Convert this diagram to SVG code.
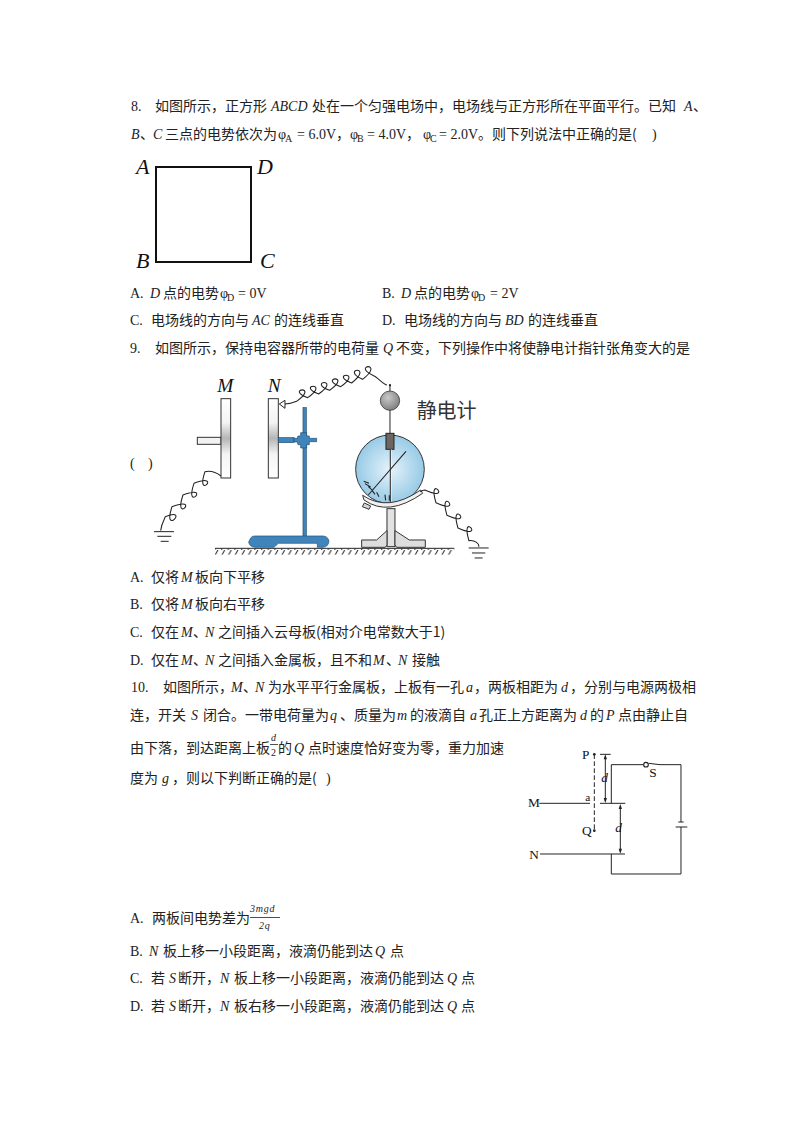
<svg xmlns="http://www.w3.org/2000/svg" width="794" height="1123" viewBox="0 0 794 1123">
<style>
text{font-family:"Liberation Serif","Noto Sans CJK SC",serif;font-size:14px;fill:#222}
.c{font-family:"Noto Sans CJK SC","Liberation Sans",sans-serif;font-size:14px}
.i{font-style:italic}
.s{font-size:10px}
.l{font-style:italic;font-size:22px;fill:#111}
.w{fill:none;stroke:#222;stroke-width:3}
.t{fill:none;stroke:#222;stroke-width:3.2}
.b{fill:#3f85bb;stroke:#234f72;stroke-width:2}
.f{font-size:58px;fill:#111}
.g{font-size:40px;fill:#111}
</style>
<defs>
<linearGradient id="plate" x1="0" y1="0" x2="0" y2="1"><stop offset="0" stop-color="#fff"/><stop offset="0.3" stop-color="#f4f4f4"/><stop offset="0.5" stop-color="#b5b5b5"/><stop offset="0.7" stop-color="#f4f4f4"/><stop offset="1" stop-color="#fff"/></linearGradient>
<radialGradient id="ball" cx="0.4" cy="0.35" r="0.7"><stop offset="0" stop-color="#c8c8c8"/><stop offset="1" stop-color="#7d7d7d"/></radialGradient>
<radialGradient id="glass" cx="0.5" cy="0.5" r="0.55"><stop offset="0" stop-color="#e6f3fa"/><stop offset="1" stop-color="#8fc6e4"/></radialGradient>
<pattern id="hatch" width="20" height="18" patternUnits="userSpaceOnUse"><path d="M14,0L4,18" stroke="#222" stroke-width="3" fill="none"/></pattern>
</defs>

<g id="question-8">
<text x="131" y="111">8.</text><text class="c" x="155" y="111">如图所示，正方形</text><text class="i" x="271" y="111">ABCD</text><text class="c" x="312" y="111">处在一个匀强电场中，电场线与正方形所在平面平行。已知</text><text class="i" x="684" y="111">A</text><text class="c" x="693" y="111">、</text>
<text class="i" x="131" y="139">B</text><text class="c" x="140" y="139">、</text><text class="i" x="153" y="139">C</text><text class="c" x="165" y="139">三点的电势依次为</text><text x="278" y="139">φ</text><text class="s" x="285" y="142">A</text><text x="297" y="139">= 6.0V</text><text class="c" x="336" y="139">，</text><text x="350" y="139">φ</text><text class="s" x="357" y="142">B</text><text x="367" y="139">= 4.0V</text><text class="c" x="406" y="139">，</text><text x="423" y="139">φ</text><text class="s" x="430" y="142">C</text><text x="439" y="139">= 2.0V</text><text class="c" x="478" y="139">。则下列说法中正确的是(</text><text x="652" y="139">)</text>
</g>
<g id="figure-square">
<rect x="156" y="167" width="95" height="95" fill="none" stroke="#111" stroke-width="2"/>
<text class="l" x="136" y="174">A</text><text class="l" x="257" y="174">D</text><text class="l" x="136" y="268">B</text><text class="l" x="260" y="268">C</text>
</g>
<g id="options-8">
<text x="130" y="298">A.</text><text class="i" x="150" y="298">D</text><text class="c" x="163" y="298">点的电势</text><text x="220" y="298">φ</text><text class="s" x="227" y="301">D</text><text x="238" y="298">= 0V</text>
<text x="382" y="298">B.</text><text class="i" x="401" y="298">D</text><text class="c" x="414" y="298">点的电势</text><text x="471" y="298">φ</text><text class="s" x="478" y="301">D</text><text x="490" y="298">= 2V</text>
<text x="130" y="325">C.</text><text class="c" x="151" y="325">电场线的方向与</text><text class="i" x="252" y="325">AC</text><text class="c" x="274" y="325">的连线垂直</text>
<text x="382" y="325">D.</text><text class="c" x="404" y="325">电场线的方向与</text><text class="i" x="505" y="325">BD</text><text class="c" x="528" y="325">的连线垂直</text>
</g>
<g id="question-9">
<text x="130" y="353">9.</text><text class="c" x="155" y="353">如图所示，保持电容器所带的电荷量</text><text class="i" x="383" y="353">Q</text><text class="c" x="396" y="353">不变，下列操作中将使静电计指针张角变大的是</text>
<text x="130" y="468">(</text><text x="148" y="468">)</text>
</g>
<g id="figure-electroscope" transform="translate(120,340) scale(0.3333)">
<g id="ground"><rect x="285" y="626" width="718" height="18" fill="url(#hatch)"/><path d="M285,625H1003" class="w"/></g>
<g id="plate-m"><rect x="232" y="292" width="71" height="21" fill="#f2f2f2" stroke="#333" stroke-width="3"/><rect x="303" y="176" width="29" height="238" fill="url(#plate)" stroke="#333" stroke-width="3"/><text class="f i" x="292" y="155">M</text></g>
<g id="plate-n"><rect x="445" y="176" width="30" height="238" fill="url(#plate)" stroke="#333" stroke-width="3"/><text class="f i" x="443" y="155">N</text></g>
<g id="stand">
<rect class="b" x="549" y="203" width="10" height="390"/>
<rect class="b" x="475" y="293" width="47" height="15"/>
<path class="b" d="M522,295H532L534,288H542V278H560V288H568V295H590V305H568V314H560V324H542V314H534L532,306H522Z"/>
<path class="b" d="M392,594Q395,588 405,588H610Q625,590 627,604Q625,620 610,622H592V610H475L462,622H405Q388,620 386,606Z"/>
</g>
<g id="electroscope">
<path class="w" d="M810,132V280"/>
<circle cx="810" cy="136" r="3.5" fill="#222"/>
<circle cx="810" cy="182" r="29" fill="url(#ball)" stroke="#333" stroke-width="2.4"/>
<circle cx="810" cy="388" r="103" fill="url(#glass)" stroke="#333" stroke-width="3"/>
<rect x="798" y="280" width="24" height="48" fill="#6c6560" stroke="#222" stroke-width="3"/>
<path d="M813,328V488" stroke="#fff" stroke-width="3" fill="none"/><path d="M811,328V488" class="w"/>
<path d="M858,334L745,465" stroke="#222" stroke-width="3.2" fill="none"/>
<path d="M731,424L747,430M735,431L752,441M745,440L758,451M757,452L765,463M770,457L777,470M795,464L797,481M808,466V482" stroke="#222" stroke-width="3.2" fill="none"/>
<path d="M728,466Q805,518 902,450L908,460Q805,532 732,480Z" fill="#f0f0f0" stroke="#333" stroke-width="3"/>
<path d="M733,489L752,498L747,508L727,500Z" fill="#d5d5d5" stroke="#333" stroke-width="3"/>
<rect x="801" y="506" width="24" height="114" fill="#e2e2e2" stroke="#333" stroke-width="3"/>
<path d="M801,572L770,600H725V622H796L801,615ZM825,572L868,600H916V622H830L825,615Z" fill="#ddd" stroke="#333" stroke-width="3"/>
<text x="890" y="233" style="font-family:'Noto Sans CJK SC',sans-serif;font-size:60px;fill:#333">静电计</text>
</g>
<g id="wires">
<path class="t" d="M495,192C510,192 520,188 530,184c70,-50 -37,-38 33,-11c70,-50 -37,-38 33,-11c70,-50 -37,-38 33,-11c70,-50 -37,-38 33,-11c70,-50 -37,-38 33,-11c70,-55 -37,-43 33,-11c70,-55 -37,-43 33,-11c12,5 30,27 40,28"/>
<path d="M478,192L495,181V205Z" fill="#fff" stroke="#222" stroke-width="3"/>
<path class="t" d="M303,408C290,398 270,392 255,395c-30,90 55,1 -33,35c-30,90 55,1 -33,35c-30,90 55,1 -33,35c-30,90 55,1 -20,30C135,535 124,550 122,572"/>
<path class="w" d="M102,575H162M112,589H154M122,604H146"/>
<path class="t" d="M900,455C905,452 910,450 915,450c87,40 6,-54 33,38c87,40 6,-54 33,38c87,40 6,-54 33,38c87,40 6,-54 33,38C1065,600 1077,610 1077,620"/>
<path class="w" d="M1046,624H1106M1056,639H1096M1064,654H1088"/>
</g>
</g>
<g id="options-9">
<text x="130" y="582">A.</text><text class="c" x="151" y="582">仅将</text><text class="i" x="181" y="582">M</text><text class="c" x="195" y="582">板向下平移</text>
<text x="130" y="609">B.</text><text class="c" x="151" y="609">仅将</text><text class="i" x="181" y="609">M</text><text class="c" x="195" y="609">板向右平移</text>
<text x="130" y="637">C.</text><text class="c" x="151" y="637">仅在</text><text class="i" x="181" y="637">M</text><text class="c" x="193" y="637">、</text><text class="i" x="205" y="637">N</text><text class="c" x="218" y="637">之间插入云母板(相对介电常数大于1)</text>
<text x="130" y="665">D.</text><text class="c" x="151" y="665">仅在</text><text class="i" x="181" y="665">M</text><text class="c" x="193" y="665">、</text><text class="i" x="205" y="665">N</text><text class="c" x="218" y="665">之间插入金属板，且不和</text><text class="i" x="373" y="665">M</text><text class="c" x="386" y="665">、</text><text class="i" x="398" y="665">N</text><text class="c" x="412" y="665">接触</text>
</g>
<g id="question-10">
<text x="131" y="692">10.</text><text class="c" x="163" y="692">如图所示，</text><text class="i" x="231" y="692">M</text><text class="c" x="243" y="692">、</text><text class="i" x="255" y="692">N</text><text class="c" x="268" y="692">为水平平行金属板，上板有一孔</text><text class="i" x="466" y="692">a</text><text class="c" x="474" y="692">，两板相距为</text><text class="i" x="561" y="692">d</text><text class="c" x="570" y="692">，分别与电源两极相</text>
<text class="c" x="130" y="720">连，开关</text><text class="i" x="191" y="720">S</text><text class="c" x="203" y="720">闭合。一带电荷量为</text><text class="i" x="330" y="720">q</text><text class="c" x="340" y="720">、质量为</text><text class="i" x="397" y="720">m</text><text class="c" x="410" y="720">的液滴自</text><text class="i" x="470" y="720">a</text><text class="c" x="479" y="720">孔正上方距离为</text><text class="i" x="580" y="720">d</text><text class="c" x="590" y="720">的</text><text class="i" x="606" y="720">P</text><text class="c" x="618" y="720">点由静止自</text>
<text class="c" x="130" y="753">由下落，到达距离上板</text><text class="i s" x="271" y="741">d</text><path d="M270,744.5H278" stroke="#222" stroke-width="0.8" fill="none"/><text class="s" x="271" y="756">2</text><text class="c" x="278" y="753">的</text><text class="i" x="294" y="753">Q</text><text class="c" x="308" y="753">点时速度恰好变为零，重力加速</text>
<text class="c" x="130" y="783">度为</text><text class="i" x="162" y="783">g</text><text class="c" x="172" y="783">，则以下判断正确的是(</text><text x="326" y="783">)</text>
</g>
<g id="figure-circuit" transform="translate(510,730) scale(0.3333)" fill="none">
<g id="circuit-wires">
<path class="w" d="M88,220H240M270,220H346M90,372H345M270,73H302"/>
<path class="w" style="stroke-dasharray:14 7" d="M253,73V302"/>
<path class="w" d="M304,220V104H400M416,100L450,104H513V276M497,291H532M513,291V432H304V372"/>
<path class="w" d="M505,276H521"/>
<circle cx="408" cy="104" r="7" stroke="#222" stroke-width="3.4" fill="#fff"/>
<circle cx="253" cy="73" r="4" fill="#222"/><circle cx="253" cy="302" r="4" fill="#222"/>
<path class="w" d="M286,80V214M331,228V366"/>
<path d="M286,73L281,88H291ZM286,219L281,204H291ZM331,222L326,237H336ZM331,371L326,356H336Z" fill="#222"/>
</g>
<g id="circuit-labels">
<text class="g" x="216" y="88">P</text><text class="g" x="418" y="142">S</text><text class="g" x="54" y="232">M</text><text class="g" x="226" y="212" style="font-size:34px">a</text><text class="g" x="216" y="316">Q</text><text class="g" x="58" y="388">N</text><text class="g i" x="274" y="156">d</text><text class="g i" x="316" y="305">d</text>
</g>
</g>
<g id="options-10">
<text x="130" y="923">A.</text><text class="c" x="152" y="923">两板间电势差为</text><text class="i s" x="250" y="912" style="letter-spacing:.8px">3mgd</text><path d="M250,917.5H280" stroke="#222" stroke-width="0.8" fill="none"/><text class="i s" x="259" y="929" style="letter-spacing:.8px">2q</text>
<text x="130" y="956">B.</text><text class="i" x="149" y="956">N</text><text class="c" x="163" y="956">板上移一小段距离，液滴仍能到达</text><text class="i" x="375" y="956">Q</text><text class="c" x="390" y="956">点</text>
<text x="130" y="983">C.</text><text class="c" x="151" y="983">若</text><text class="i" x="169" y="983">S</text><text class="c" x="178" y="983">断开，</text><text class="i" x="220" y="983">N</text><text class="c" x="234" y="983">板上移一小段距离，液滴仍能到达</text><text class="i" x="447" y="983">Q</text><text class="c" x="461" y="983">点</text>
<text x="130" y="1011">D.</text><text class="c" x="151" y="1011">若</text><text class="i" x="169" y="1011">S</text><text class="c" x="178" y="1011">断开，</text><text class="i" x="220" y="1011">N</text><text class="c" x="234" y="1011">板右移一小段距离，液滴仍能到达</text><text class="i" x="447" y="1011">Q</text><text class="c" x="461" y="1011">点</text>
</g>
</svg>
